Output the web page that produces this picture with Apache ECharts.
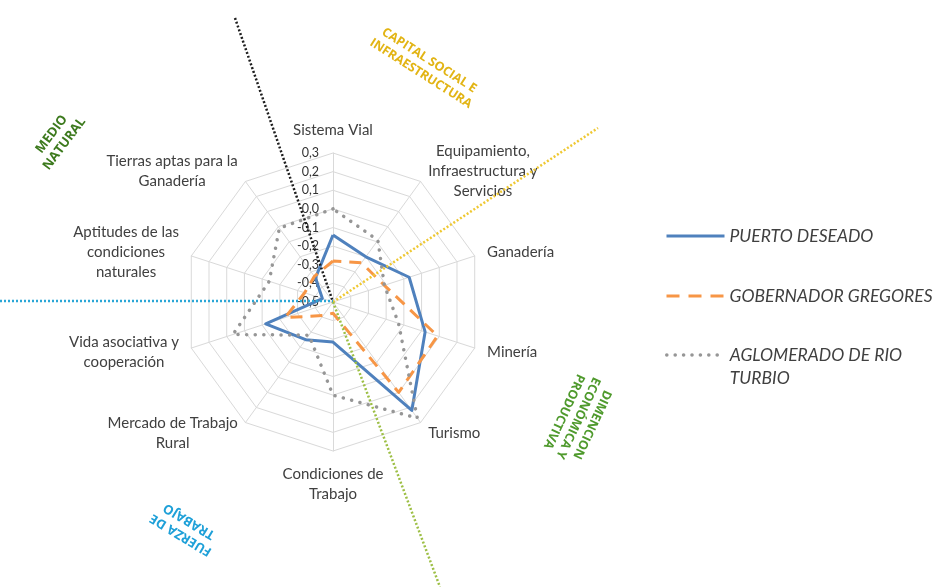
<!DOCTYPE html>
<html>
<head>
<meta charset="utf-8">
<script src="https://cdn.jsdelivr.net/npm/echarts@6/dist/echarts.min.js"></script>
<style>
html,body{margin:0;padding:0;background:#ffffff;}
#chart{width:938px;height:587px;}
</style>
</head>
<body>
<div id="chart"></div>
<script>
// ---- Data (Excel order, clockwise from top) ----
const categories = [
  'Sistema Vial',
  'Equipamiento,\nInfraestructura y\nServicios',
  'Ganadería',
  'Minería',
  'Turismo',
  'Condiciones de\nTrabajo',
  'Mercado de Trabajo\nRural',
  'Vida asociativa y\ncooperación',
  'Aptitudes de las\ncondiciones\nnaturales',
  'Tierras aptas para la\nGanadería'
];
const seriesNames = ['PUERTO DESEADO', 'GOBERNADOR GREGORES', 'AGLOMERADO DE RIO TURBIO'];
const puertoDeseado      = [-0.14, -0.20, -0.07, 0.02, 0.22, -0.285, -0.25, -0.12, -0.44, -0.34];
const gobernadorGregores = [-0.28, -0.24, -0.21, 0.09, 0.10, -0.44, -0.41, -0.23, -0.34, -0.33];
const aglomeradoRioTurbio= [0.00, -0.09, -0.21, -0.13, 0.27, 0.00, -0.28, 0.065, -0.14, -0.01];
const axisMin = -0.5;
const axisMax = 0.3;
const axisSplits = 8;
const sectorLabels = ['MEDIO\nNATURAL', 'CAPITAL SOCIAL E\nINFRAESTRUCTURA', 'DIMENCION\nECONÓMICA Y\nPRODUCTIVA', 'FUERZA DE\nTRABAJO'];

// ---- Layout / style ----
const CX = 333, CY = 302, R = 149;
const colors = ['#4f81bd', '#f79646', '#969696'];
const txt = '#404040';
const FONT = 'Lato, "Open Sans", sans-serif';
const BOLDFONT = '"Open Sans", "DejaVu Sans", sans-serif';

// ECharts lays indicators counterclockwise; Excel goes clockwise
const order = [0, 9, 8, 7, 6, 5, 4, 3, 2, 1];
const reorder = arr => order.map(i => arr[i]);

const fmt = v => (Math.round(v * 10) / 10).toFixed(1).replace('.', ',');

const lineIcon = 'path://M0,0M0,10M0,5L60,5';

const chart = echarts.init(document.getElementById('chart'), null, {renderer: 'canvas'});

const annoLines = [
  {p: [235, 18, 333, 302], c: '#1e1e1e'},
  {p: [333, 302, 598, 128], c: '#efc832'},
  {p: [0, 301, 333, 301], c: '#2aa6d6'},
  {p: [333, 302, 440, 587], c: '#9dbf45'}
];
const annoTexts = [
  {t: sectorLabels[0], x: 58, y: 139, r: 53, c: '#3d7a1e', s: 13},
  {t: sectorLabels[1], x: 425, y: 67, r: -32.5, c: '#e2b414', s: 12.5},
  {t: sectorLabels[2], x: 578, y: 418, r: -115, c: '#4f9a2d', s: 12.5},
  {t: sectorLabels[3], x: 185, y: 528, r: 149, c: '#1ea0d8', s: 13}
];

const option = {
  backgroundColor: '#ffffff',
  animation: false,
  radar: {
    center: [CX, CY],
    radius: R,
    startAngle: 90,
    splitNumber: axisSplits,
    shape: 'polygon',
    nameGap: 13,
    indicator: order.map((i, k) => {
      const ind = {name: categories[i], min: axisMin, max: axisMax};
      if (k === 0) ind.axisLabel = {show: true};
      return ind;
    }),
    axisName: {
      color: txt,
      fontSize: 15,
      fontFamily: FONT,
      formatter: name => name.split('\n').map(l => '{c|' + l + '}').join('\n'),
      rich: {c: {align: 'center', color: txt, fontSize: 15, fontFamily: FONT, lineHeight: 20}}
    },
    splitLine: {lineStyle: {color: '#d9d9d9', width: 1}},
    splitArea: {show: false},
    axisLine: {lineStyle: {color: '#d9d9d9', width: 1}},
    axisTick: {show: false},
    axisLabel: {show: false, color: '#333', fontSize: 12.5, fontFamily: FONT, margin: 14, formatter: fmt}
  },
  legend: [
    {
      orient: 'vertical', left: 660, top: 219.5, itemWidth: 58, itemHeight: 10, itemGap: 37,
      textStyle: {color: txt, fontSize: 17.5, fontStyle: 'italic', fontFamily: FONT, lineHeight: 23},
      data: [
        {name: seriesNames[0], icon: lineIcon, itemStyle: {color: colors[0], borderColor: colors[0], borderWidth: 3, borderType: 'solid'}},
        {name: seriesNames[1], icon: lineIcon, itemStyle: {color: colors[1], borderColor: colors[1], borderWidth: 3, borderType: [13, 9]}}
      ]
    },
    {
      orient: 'vertical', left: 660, top: 315.5, itemWidth: 58, itemHeight: 10,
      formatter: name => '\n' + name.replace('DE RIO ', 'DE RIO\n'),
      textStyle: {color: txt, fontSize: 17.5, fontStyle: 'italic', fontFamily: FONT, lineHeight: 23},
      data: [
        {name: seriesNames[2], icon: lineIcon, itemStyle: {color: colors[2], borderColor: colors[2], borderWidth: 3.5, borderType: [0.1, 8.3], borderCap: 'round'}}
      ]
    }
  ],
  series: [{
    type: 'radar',
    symbol: 'none',
    data: [
      {name: seriesNames[0], value: reorder(puertoDeseado), lineStyle: {color: colors[0], width: 3}, itemStyle: {color: colors[0]}},
      {name: seriesNames[1], value: reorder(gobernadorGregores), lineStyle: {color: colors[1], width: 3, type: [12, 8]}, itemStyle: {color: colors[1]}},
      {name: seriesNames[2], value: reorder(aglomeradoRioTurbio), lineStyle: {color: colors[2], width: 3.5, type: [0.1, 8.5], cap: 'round'}, itemStyle: {color: colors[2]}}
    ]
  }],
  graphic: [
    ...annoLines.map(l => ({
      type: 'line', z: 100, silent: true,
      shape: {x1: l.p[0], y1: l.p[1], x2: l.p[2], y2: l.p[3]},
      style: {stroke: l.c, lineWidth: 2.5, lineDash: [2, 2]}
    })),
    ...annoTexts.map(a => ({
      type: 'text', z: 100, silent: true,
      x: a.x, y: a.y, rotation: a.r * Math.PI / 180,
      style: {text: a.t, fill: a.c, fontSize: a.s, fontWeight: 'bold', fontFamily: BOLDFONT, align: 'center', verticalAlign: 'middle', lineHeight: a.s + 3}
    }))
  ]
};
chart.setOption(option);
</script>
</body>
</html>
